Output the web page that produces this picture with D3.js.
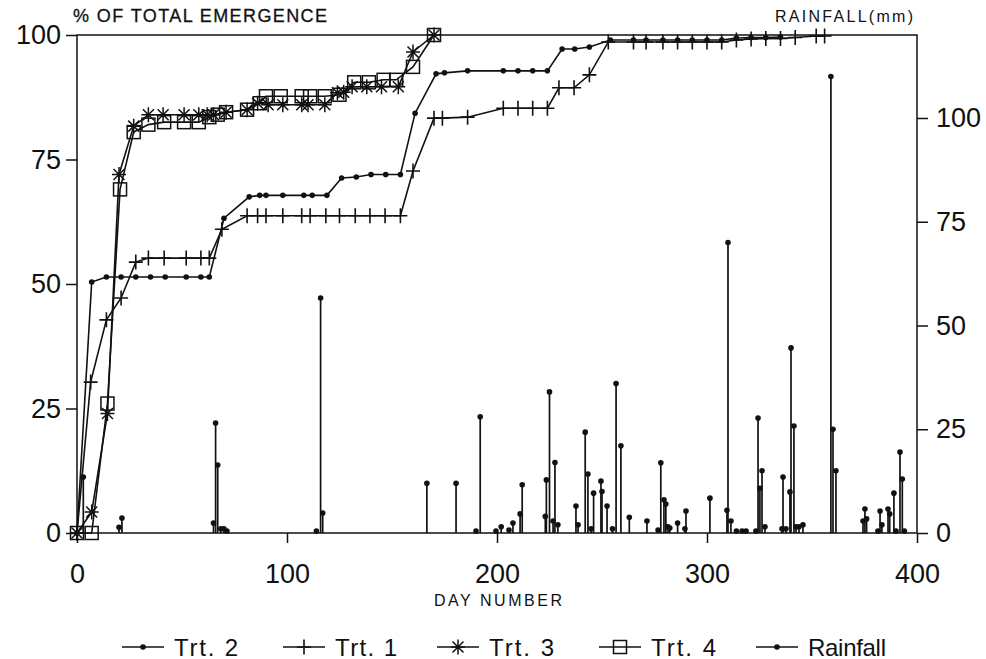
<!DOCTYPE html>
<html>
<head>
<meta charset="utf-8">
<script src="https://cdn.jsdelivr.net/npm/d3@7"></script>
<style>
  body { margin: 0; background: #fff; }
  svg { display: block; font-family: "Liberation Sans", Arial, sans-serif; }
</style>
</head>
<body>
<svg id="chart" width="986" height="659"></svg>
<script>
// emergence series (day number, % of total emergence)
var trt2Day = [0, 7, 14, 21, 28, 35, 42, 52, 59, 63, 70, 82, 87, 90, 98, 108, 112, 119, 126, 133, 140, 147, 154, 161, 171, 175, 186, 203, 210, 217, 224, 231, 237, 244, 254, 265, 271, 279, 286, 293, 300, 307, 314, 321, 328, 335];
var trt2 = [0, 50.4, 51.4, 51.4, 51.4, 51.4, 51.4, 51.4, 51.4, 51.4, 63.2, 67.5, 67.8, 67.8, 67.8, 67.8, 67.8, 67.8, 71.3, 71.5, 72, 72, 72, 84.3, 92.2, 92.4, 92.8, 92.8, 92.8, 92.8, 92.8, 97.2, 97.2, 97.6, 99, 99, 99, 99, 99, 99, 99, 99, 99.4, 99.5, 99.5, 99.6];

var trt1Day = [0, 6.5, 14, 21, 28, 34, 41.5, 52, 59, 63, 69, 81, 86, 90, 98, 107, 111, 118.5, 125, 132.5, 139.5, 146.7, 154, 160, 170, 174, 186, 203, 210, 217, 224, 229.5, 236.7, 244, 253, 265, 271, 279, 286, 293, 300, 307, 314, 321, 328, 335, 342, 352, 356];
var trt1 = [0, 30.3, 42.8, 47.2, 54.4, 55.2, 55.2, 55.2, 55.2, 55.2, 61, 63.7, 63.7, 63.7, 63.7, 63.7, 63.7, 63.7, 63.7, 63.7, 63.7, 63.7, 63.7, 72.7, 83.3, 83.3, 83.5, 85.3, 85.3, 85.3, 85.3, 89.4, 89.4, 92, 98.6, 98.6, 98.6, 98.6, 98.6, 98.6, 98.6, 98.6, 99, 99.2, 99.3, 99.3, 99.5, 99.8, 99.8];

var trt3Day = [0, 7, 14.5, 20, 27, 34, 41, 51, 58, 62, 65, 71, 81, 86, 91, 98, 107, 110, 118, 124, 127, 131, 138, 145, 153, 160, 170];
var trt3 = [0, 4.2, 24, 72, 81.7, 84, 84, 84, 84, 84, 84, 84.5, 85, 86.3, 86, 86, 86, 86, 86, 88.4, 88.5, 89.6, 89.6, 89.6, 89.6, 96.6, 100];

var trt4Day = [0, 7, 14.5, 20.5, 27, 34, 41.5, 51, 58, 63, 67, 71, 81, 87, 90, 97, 107, 111, 118, 125, 132, 139, 146, 152, 160, 170];
var trt4 = [0, 0, 26, 69, 80.5, 82, 82.5, 82.5, 82.5, 83.5, 84, 84.5, 85, 86.3, 87.7, 87.7, 87.7, 87.7, 87.7, 88, 90.5, 90.5, 91, 91, 93.6, 100];

// daily rainfall (day number, mm)
var rainDay = [3, 20, 21.4, 65, 66, 67, 68.5, 70, 71.4, 114, 116, 117, 166.6, 180.5, 190, 192, 199.5, 202, 205.7, 207.6, 211, 212, 223, 223.5, 225, 226.7, 227.6, 229, 237.6, 238.6, 242, 243.3, 244.8, 246, 249.5, 250, 252.4, 255, 256.7, 259, 263, 271.4, 276.7, 278, 279.5, 280.4, 281.4, 282.3, 286, 289.5, 290, 301.4, 309.5, 310, 311.4, 314, 316.7, 318.6, 323.3, 324.3, 325.2, 326.2, 327.6, 335.7, 336.2, 337.6, 339.5, 340, 341.4, 342.4, 343.8, 345.7, 359, 360, 361.4, 374.3, 375.2, 376, 381.4, 382.4, 383.3, 386.2, 387, 389, 390, 391.9, 393, 394];
var rainMm = [13.5, 1.4, 3.6, 2.4, 26.5, 16.4, 1, 1, 0.5, 0.5, 56.6, 4.8, 12, 12, 0.5, 28, 0.5, 1.5, 0.7, 2.4, 4.6, 11.6, 4, 12.8, 34, 2.9, 17, 2, 6.5, 2, 24.3, 14.2, 1, 9.6, 12.5, 10, 6.5, 1, 36, 21, 3.8, 2.9, 0.7, 16.9, 8, 7, 1.5, 1.2, 2.4, 1, 5.3, 8.4, 5.5, 70, 2.9, 0.5, 0.5, 0.5, 0.5, 27.7, 10.8, 15, 1.5, 1, 13.5, 1, 9.9, 44.6, 25.8, 1.5, 1.5, 2, 110, 25, 15, 2.9, 5.8, 3.4, 0.5, 5.3, 2, 5.8, 4.6, 9.6, 0.5, 19.5, 13, 0.5];

var xTicks = [0, 100, 200, 300, 400];
var leftTicks = [0, 25, 50, 75, 100];
var rightTicks = [0, 25, 50, 75, 100];

var ink = "#111";

var svg = d3.select("#chart");

// plot box (note: "top" is a reserved window global, so use other names)
var plotL = 77, plotR = 917, plotT = 35, plotB = 533;

var x = d3.scaleLinear().domain([0, 400]).range([plotL, plotR]);
var y = d3.scaleLinear().domain([0, 100]).range([plotB, plotT]);
var yRain = d3.scaleLinear().domain([0, 120]).range([plotB, plotT]);

// frame
svg.append("rect")
    .attr("x", plotL).attr("y", plotT)
    .attr("width", plotR - plotL).attr("height", plotB - plotT)
    .attr("fill", "none").attr("stroke", ink).attr("stroke-width", 1.5);

function styleAxis(g) {
    g.select(".domain").remove();
    g.selectAll(".tick line").attr("stroke", ink).attr("stroke-width", 1.5);
    g.selectAll(".tick text").attr("fill", ink).style("font-size", "27px");
}

svg.append("g")
    .attr("transform", "translate(0," + plotB + ")")
    .call(d3.axisBottom(x).tickValues(xTicks).tickSize(10).tickPadding(21).tickFormat(d3.format("d")))
    .call(styleAxis);

svg.append("g")
    .attr("transform", "translate(" + plotL + ",0)")
    .call(d3.axisLeft(y).tickValues(leftTicks).tickSize(11).tickPadding(5))
    .call(styleAxis);

svg.append("g")
    .attr("transform", "translate(" + plotR + ",0)")
    .call(d3.axisRight(yRain).tickValues(rightTicks).tickSize(11).tickPadding(8))
    .call(styleAxis);

// axis titles
svg.append("text").attr("x", 73).attr("y", 22)
    .attr("textLength", 254).attr("lengthAdjust", "spacing")
    .style("font-size", "18px").attr("fill", ink)
    .attr("stroke", ink).attr("stroke-width", 0.3)
    .text("% OF TOTAL EMERGENCE");

svg.append("text").attr("x", 775).attr("y", 22)
    .attr("textLength", 138).attr("lengthAdjust", "spacing")
    .style("font-size", "16px").attr("fill", ink)
    .text("RAINFALL(mm)");

svg.append("text").attr("x", 434).attr("y", 606)
    .attr("textLength", 128).attr("lengthAdjust", "spacing")
    .style("font-size", "16px").attr("fill", ink)
    .text("DAY NUMBER");

// marker shapes
var markers = {
    dot: function (g) { g.append("circle").attr("r", 2.8).attr("fill", ink); },
    plus: function (g) {
        g.append("path").attr("d", "M-7,0H7M0,-7.5V7.5")
            .attr("stroke", ink).attr("stroke-width", 1.6).attr("fill", "none");
    },
    star: function (g) {
        g.append("path").attr("d", "M-7,0H7M0,-7.5V7.5M-5.5,-5.5L5.5,5.5M-5.5,5.5L5.5,-5.5")
            .attr("stroke", ink).attr("stroke-width", 1.5).attr("fill", "none");
    },
    square: function (g) {
        g.append("rect").attr("x", -6.5).attr("y", -6.5).attr("width", 13).attr("height", 13)
            .attr("stroke", ink).attr("stroke-width", 1.5).attr("fill", "none");
    }
};

var line = d3.line().x(d => x(d[0])).y(d => y(d[1]));

function drawSeries(days, values, marker) {
    var pts = days.map((d, i) => [d, values[i]]);
    svg.append("path")
        .datum(pts)
        .attr("d", line)
        .attr("fill", "none")
        .attr("stroke", ink)
        .attr("stroke-width", 1.6);
    svg.append("g").selectAll("g")
        .data(pts)
        .join("g")
        .attr("transform", d => "translate(" + x(d[0]) + "," + y(d[1]) + ")")
        .each(function () { markers[marker](d3.select(this)); });
}

// rainfall stems
var rain = rainDay.map((d, i) => [d, rainMm[i]]);
svg.append("g").selectAll("line")
    .data(rain)
    .join("line")
    .attr("x1", d => x(d[0])).attr("x2", d => x(d[0]))
    .attr("y1", yRain(0)).attr("y2", d => yRain(d[1]))
    .attr("stroke", ink).attr("stroke-width", 1.7);
svg.append("g").selectAll("circle")
    .data(rain)
    .join("circle")
    .attr("cx", d => x(d[0])).attr("cy", d => yRain(d[1]))
    .attr("r", 2.8).attr("fill", ink);

drawSeries(trt2Day, trt2, "dot");
drawSeries(trt1Day, trt1, "plus");
drawSeries(trt3Day, trt3, "star");
drawSeries(trt4Day, trt4, "square");

// legend
var legendNames = ["Trt. 2", "Trt. 1", "Trt. 3", "Trt. 4", "Rainfall"];
var legendMarks = ["dot", "plus", "star", "square", "dot"];
var legendX = [122, 283, 437, 599, 756];
var legendW = [64, 62, 65, 65, 78];
var legendY = 647;

legendNames.forEach(function (name, i) {
    var g = svg.append("g").attr("transform", "translate(" + legendX[i] + "," + legendY + ")");
    g.append("line").attr("x1", 0).attr("x2", 42).attr("y1", 0).attr("y2", 0)
        .attr("stroke", ink).attr("stroke-width", 1.5);
    markers[legendMarks[i]](g.append("g").attr("transform", "translate(21,0)"));
    g.append("text").attr("x", 52).attr("y", 8.5)
        .attr("textLength", legendW[i]).attr("lengthAdjust", "spacing")
        .style("font-size", "24px").attr("fill", ink)
        .text(name);
});
</script>
</body>
</html>
